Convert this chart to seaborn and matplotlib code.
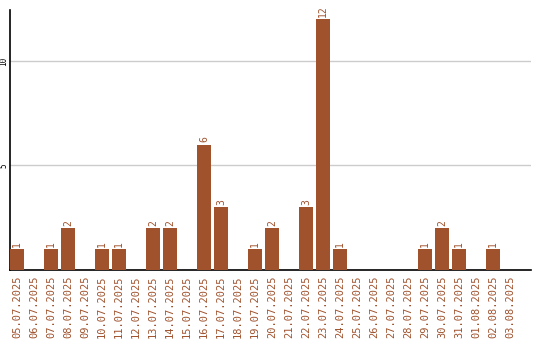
import matplotlib
matplotlib.use("Agg")
import matplotlib.pyplot as plt
import seaborn as sns
import pandas as pd

dates = ["05.07.2025", "06.07.2025", "07.07.2025", "08.07.2025", "09.07.2025",
         "10.07.2025", "11.07.2025", "12.07.2025", "13.07.2025", "14.07.2025",
         "15.07.2025", "16.07.2025", "17.07.2025", "18.07.2025", "19.07.2025",
         "20.07.2025", "21.07.2025", "22.07.2025", "23.07.2025", "24.07.2025",
         "25.07.2025", "26.07.2025", "27.07.2025", "28.07.2025", "29.07.2025",
         "30.07.2025", "31.07.2025", "01.08.2025", "02.08.2025", "03.08.2025"]
counts = [1, 0, 1, 2, 0, 1, 1, 0, 2, 2, 0, 6, 3, 0, 1, 2, 0, 3, 12, 1,
          0, 0, 0, 0, 1, 2, 1, 0, 1, 0]
yticks = [5, 10]

color = "#A0522D"
df = pd.DataFrame({"date": dates, "count": counts})

sns.set_style("white")
plt.rcParams['font.family'] = ['DejaVu Sans Mono']

fig = plt.figure(figsize=(5.4, 3.4), dpi=100)
ax = fig.add_axes([10/540, 70/340, 521/540, 260/340])
sns.barplot(data=df, x="date", y="count", color=color, saturation=1,
            width=0.82, linewidth=0, ax=ax, zorder=3)

for i, v in enumerate(counts):
    if v > 0:
        ax.text(i, v + 0.12, str(v), rotation=90, ha="center", va="bottom",
                fontsize=7, color=color)

ax.set_xlim(-0.41, 30.24)
ax.set_ylim(0, 12.44)
ax.set_yticks(yticks)
ax.set_yticklabels([str(t) for t in yticks], rotation=90, va="center",
                   ha="right", fontsize=5.5, color="black")
ax.tick_params(axis="y", length=0, pad=1)
ax.tick_params(axis="x", length=0, pad=4)
ax.set_xticks(range(len(dates)))
ax.set_xticklabels(dates, rotation=90, fontsize=7.5, color=color)
ax.yaxis.grid(True, color="#cccccc", linewidth=1, zorder=0)
ax.set_xlabel("")
ax.set_ylabel("")
for s in ["top", "right"]:
    ax.spines[s].set_visible(False)
for s in ["left", "bottom"]:
    ax.spines[s].set_color("black")
    ax.spines[s].set_linewidth(1.2)

fig.savefig("out.png", dpi=100)
